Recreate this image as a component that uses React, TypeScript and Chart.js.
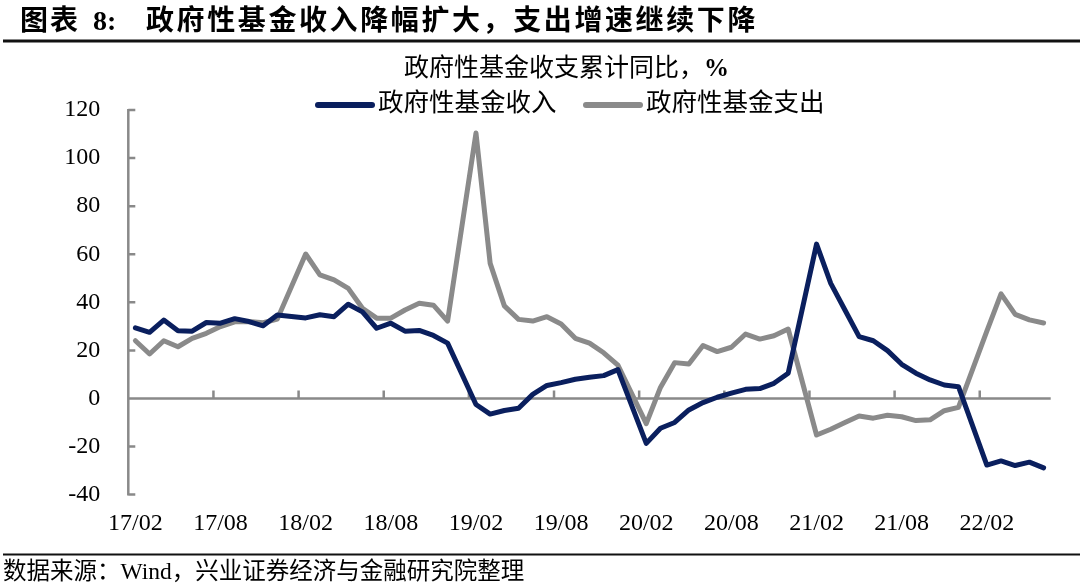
import { useEffect, useRef } from "react";
import { Chart, registerables } from "chart.js";

Chart.register(...registerables);

const categories = [
  "17/02", "17/03", "17/04", "17/05", "17/06", "17/07", "17/08", "17/09", "17/10", "17/11", "17/12",
  "18/01", "18/02", "18/03", "18/04", "18/05", "18/06", "18/07", "18/08", "18/09", "18/10", "18/11", "18/12",
  "19/01", "19/02", "19/03", "19/04", "19/05", "19/06", "19/07", "19/08", "19/09", "19/10", "19/11", "19/12",
  "20/01", "20/02", "20/03", "20/04", "20/05", "20/06", "20/07", "20/08", "20/09", "20/10", "20/11", "20/12",
  "21/01", "21/02", "21/03", "21/04", "21/05", "21/06", "21/07", "21/08", "21/09", "21/10", "21/11", "21/12",
  "22/01", "22/02", "22/03", "22/04", "22/05", "22/06",
];

// 政府性基金收入 累计同比 (%), January has no separate release
const incomeYoY: (number | null)[] = [
  29.4, 27.5, 32.6, 28.2, 28.0, 31.6, 31.3, 33.2, 32.0, 30.2, 34.7,
  null, 33.5, 34.8, 34.0, 39.2, 36.0, 29.2, 31.3, 28.0, 28.3, 26.2, 23.0,
  null, -2.5, -6.5, -5.0, -4.1, 1.7, 5.4, 6.6, 8.0, 8.8, 9.5, 12.0,
  null, -18.7, -12.4, -10.0, -4.8, -1.7, 0.5, 2.2, 3.8, 4.1, 6.3, 10.5,
  null, 64.2, 47.9, 36.8, 25.7, 24.0, 19.9, 14.2, 10.5, 7.7, 5.6, 4.9,
  null, -27.7, -26.0, -27.9, -26.5, -28.9,
];

// 政府性基金支出 累计同比 (%)
const expenditureYoY: (number | null)[] = [
  24.0, 18.5, 24.0, 21.5, 25.0, 27.1, 29.9, 31.9, 32.0, 31.5, 33.0,
  null, 60.1, 51.4, 49.3, 45.8, 37.5, 33.4, 33.4, 36.8, 39.6, 38.8, 32.2,
  null, 110.4, 56.2, 38.5, 32.9, 32.2, 34.0, 31.0, 25.0, 23.0, 19.0, 13.9,
  null, -10.5, 4.6, 14.9, 14.3, 22.0, 19.5, 21.3, 26.8, 24.7, 26.1, 28.9,
  null, -15.2, -12.8, -10.0, -7.3, -8.2, -7.0, -7.6, -9.2, -8.9, -5.1, -3.7,
  null, 28.0, 43.5, 35.0, 32.7, 31.4,
];

const yTickValues = [120, 100, 80, 60, 40, 20, 0, -20, -40];
const labelEvery = 6;

const seriesNames = ["政府性基金收入", "政府性基金支出"];
const seriesColors = ["#0A1F5E", "#8A8A8A"];

const headerTitle = ["图表", "8:", "政府性基金收入降幅扩大，支出增速继续下降"];
const chartTitle = "政府性基金收支累计同比，";
const chartTitleUnit = "%";
const footerText = "数据来源：Wind，兴业证券经济与金融研究院整理";

const FONT = '"Liberation Serif", "Noto Sans CJK SC", serif';

function drawSpaced(ctx: CanvasRenderingContext2D, text: string, x0: number, y: number, adv: number) {
  const chars = Array.from(text);
  for (let i = 0; i < chars.length; i++) {
    ctx.fillText(chars[i], x0 + i * adv, y);
  }
}

const decorPlugin = {
  id: "decor",
  beforeDatasetsDraw(chart: any) {
    const { ctx, chartArea, scales } = chart;
    const x = scales.x;
    const y = scales.y;
    ctx.save();
    ctx.strokeStyle = "#898989";
    ctx.lineWidth = 2.5;
    ctx.lineCap = "butt";
    const ax = chartArea.left;
    ctx.beginPath();
    ctx.moveTo(ax, y.getPixelForValue(yTickValues[0]) - 1);
    ctx.lineTo(ax, y.getPixelForValue(yTickValues[yTickValues.length - 1]) + 1);
    for (const v of yTickValues) {
      const py = y.getPixelForValue(v);
      ctx.moveTo(ax, py);
      ctx.lineTo(ax + 7, py);
    }
    const y0 = y.getPixelForValue(0);
    ctx.moveTo(chartArea.left, y0);
    ctx.lineTo(chartArea.right, y0);
    const half = (x.getPixelForValue(1) - x.getPixelForValue(0)) / 2;
    for (let i = labelEvery; i < categories.length; i += labelEvery) {
      const px = x.getPixelForValue(i) - half;
      ctx.moveTo(px, y0);
      ctx.lineTo(px, y0 - 8);
    }
    ctx.stroke();
    ctx.restore();
  },
  afterDraw(chart: any) {
    const { ctx } = chart;
    ctx.save();
    ctx.fillStyle = "#000";
    ctx.textBaseline = "middle";
    ctx.textAlign = "left";

    // header
    ctx.font = `bold 28px ${FONT}`;
    drawSpaced(ctx, headerTitle[0], 20, 23, 30);
    ctx.fillText(headerTitle[1], 93, 23);
    drawSpaced(ctx, headerTitle[2], 146, 23, 30.6);
    ctx.strokeStyle = "#111";
    ctx.lineWidth = 3;
    ctx.beginPath();
    ctx.moveTo(3, 41);
    ctx.lineTo(1080, 41);
    ctx.stroke();

    // chart title
    ctx.font = `25px ${FONT}`;
    ctx.fillText(chartTitle, 404, 69);
    const tw = ctx.measureText(chartTitle).width;
    ctx.font = `bold 25px ${FONT}`;
    ctx.fillText(chartTitleUnit, 404 + tw, 70);

    // legend
    const legendX = [316, 584];
    ctx.lineCap = "round";
    ctx.lineWidth = 6;
    ctx.font = `25.5px ${FONT}`;
    for (let i = 0; i < seriesNames.length; i++) {
      ctx.strokeStyle = seriesColors[i];
      ctx.beginPath();
      ctx.moveTo(legendX[i] + 2, 105);
      ctx.lineTo(legendX[i] + 56, 105);
      ctx.stroke();
      ctx.fillText(seriesNames[i], legendX[i] + 62, 104);
    }

    // footer
    ctx.strokeStyle = "#111";
    ctx.lineWidth = 2;
    ctx.lineCap = "butt";
    ctx.beginPath();
    ctx.moveTo(3, 554.5);
    ctx.lineTo(1080, 554.5);
    ctx.stroke();
    ctx.font = `23.5px ${FONT}`;
    ctx.fillText(footerText, 3, 573);
    ctx.restore();
  },
};

export default function App() {
  const canvasRef = useRef<HTMLCanvasElement | null>(null);

  useEffect(() => {
    if (!canvasRef.current) return;
    const chart = new Chart(canvasRef.current, {
      type: "line",
      data: {
        labels: categories,
        datasets: [
          {
            label: seriesNames[0],
            data: incomeYoY,
            borderColor: seriesColors[0],
            backgroundColor: seriesColors[0],
            borderWidth: 5,
            pointRadius: 0,
            tension: 0,
            spanGaps: true,
            borderJoinStyle: "round",
            borderCapStyle: "round",
          },
          {
            label: seriesNames[1],
            data: expenditureYoY,
            borderColor: seriesColors[1],
            backgroundColor: seriesColors[1],
            borderWidth: 5,
            pointRadius: 0,
            tension: 0,
            spanGaps: true,
            borderJoinStyle: "round",
            borderCapStyle: "round",
          },
        ],
      },
      options: {
        animation: false,
        responsive: true,
        maintainAspectRatio: false,
        layout: { padding: { top: 110, right: 29.3, bottom: 32.4, left: 0 } },
        plugins: {
          legend: { display: false },
          title: { display: false },
          tooltip: { enabled: false },
        },
        scales: {
          x: {
            type: "category",
            offset: true,
            grid: { display: false, drawTicks: false },
            border: { display: false },
            ticks: {
              autoSkip: false,
              maxRotation: 0,
              minRotation: 0,
              padding: 15,
              color: "#000",
              font: { family: FONT, size: 24 },
              callback: (_v: any, i: number) => (i % labelEvery === 0 ? categories[i] : ""),
            },
            afterFit: (s: any) => {
              s.height = 60;
            },
          },
          y: {
            min: -40,
            max: 120,
            grid: { display: false, drawTicks: false },
            border: { display: false },
            ticks: {
              stepSize: 20,
              padding: 28,
              color: "#000",
              font: { family: FONT, size: 24 },
            },
            afterFit: (s: any) => {
              s.width = 128.3;
            },
          },
        },
      },
      plugins: [decorPlugin],
    });
    return () => chart.destroy();
  }, []);

  return (
    <div style={{ position: "absolute", left: 0, top: 0, width: 1080, height: 587, background: "#fff" }}>
      <canvas ref={canvasRef} />
    </div>
  );
}
